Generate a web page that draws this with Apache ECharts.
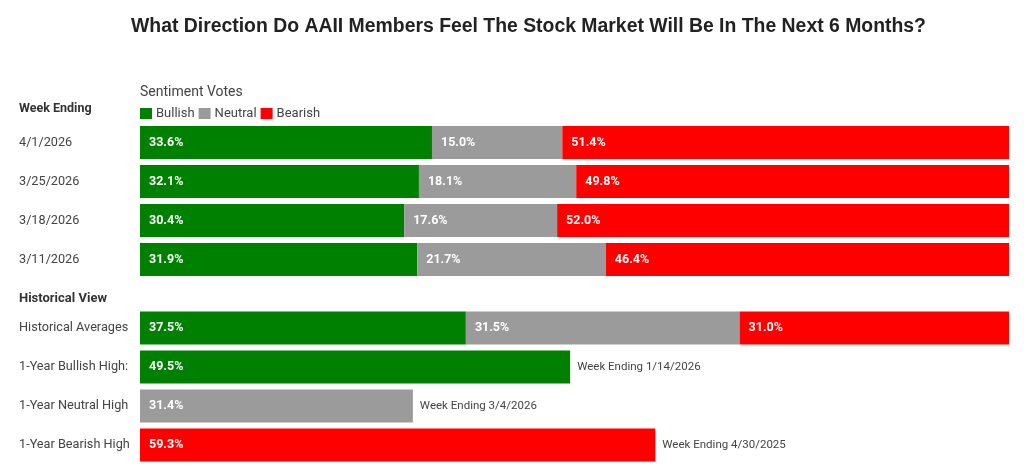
<!DOCTYPE html>
<html><head><meta charset="utf-8">
<script src="https://cdn.jsdelivr.net/npm/echarts@6/dist/echarts.min.js"></script>
<style>html,body{margin:0;padding:0;background:#fff}#c{width:1024px;height:470px}</style>
</head><body><div id="c"></div>
<script>
const weekCategories = ['4/1/2026', '3/25/2026', '3/18/2026', '3/11/2026'];
const weekBullish = [33.6, 32.1, 30.4, 31.9];
const weekNeutral = [15.0, 18.1, 17.6, 21.7];
const weekBearish = [51.4, 49.8, 52.0, 46.4];

const histCategories = ['Historical Averages', '1-Year Bullish High:', '1-Year Neutral High', '1-Year Bearish High'];
const histBullish = [37.5, 49.5, null, null];
const histNeutral = [31.5, null, 31.4, null];
const histBearish = [31.0, null, null, 59.3];
const histNotes = ['', 'Week Ending 1/14/2026', 'Week Ending 3/4/2026', 'Week Ending 4/30/2025'];

const COLORS = { Bullish: '#008000', Neutral: '#9b9b9b', Bearish: '#ff0000' };
const FONT = 'Roboto';

const dash = a => a.map(v => v == null ? '-' : v);
const valLabel = {
  show: true, position: 'insideLeft', distance: 9,
  color: '#fff', fontFamily: FONT, fontWeight: 'bold', fontSize: 12.5,
  formatter: p => p.value.toFixed(1) + '%'
};
function barSeries(name, data, idx, stack) {
  return {
    name, type: 'bar', stack, xAxisIndex: idx, yAxisIndex: idx,
    data: dash(data), barWidth: 33,
    itemStyle: { color: COLORS[name] },
    label: valLabel, emphasis: { disabled: true }
  };
}
const noteValues = histNotes.map((n, i) => n ? [histBullish[i], histNeutral[i], histBearish[i]].find(v => v != null) : '-');

const catAxis = (idx, cats) => ({
  type: 'category', gridIndex: idx, data: cats, inverse: true,
  axisLine: { show: false }, axisTick: { show: false },
  axisLabel: { margin: 121, align: 'left', color: '#444', fontFamily: FONT, fontSize: 12.7 }
});
const valAxis = idx => ({ type: 'value', gridIndex: idx, min: 0, max: 100, show: false });

const chart = echarts.init(document.getElementById('c'), null, { renderer: 'canvas' });
chart.setOption({
  animation: false,
  title: [
    { text: 'What Direction Do AAII Members Feel The Stock Market Will Be In The Next 6 Months?',
      left: 131, top: 17, padding: 0,
      textStyle: { fontFamily: 'Liberation Sans', fontWeight: 'bold', fontSize: 19.4, color: '#222' } },
    { text: 'Sentiment Votes', left: 140, top: 85, padding: 0,
      textStyle: { fontFamily: FONT, fontWeight: 'normal', fontSize: 14, color: '#444' } },
    { text: 'Week Ending', left: 19, top: 102, padding: 0,
      textStyle: { fontFamily: FONT, fontWeight: 'bold', fontSize: 12.5, color: '#333' } },
    { text: 'Historical View', left: 19, top: 292, padding: 0,
      textStyle: { fontFamily: FONT, fontWeight: 'bold', fontSize: 13, color: '#333' } }
  ],
  legend: {
    data: ['Bullish', 'Neutral', 'Bearish'], left: 140, top: 107, padding: 0, icon: 'rect',
    itemWidth: 12, itemHeight: 11, itemGap: 4, selectedMode: false,
    textStyle: { fontFamily: FONT, fontSize: 13, color: '#444', padding: [0, 0, 0, -1] }
  },
  grid: [
    { left: 140, right: 15, top: 123, height: 156 },
    { left: 140, right: 15, top: 308.5, height: 156 }
  ],
  xAxis: [valAxis(0), valAxis(1)],
  yAxis: [catAxis(0, weekCategories), catAxis(1, histCategories)],
  series: [
    barSeries('Bullish', weekBullish, 0, 'w'),
    barSeries('Neutral', weekNeutral, 0, 'w'),
    barSeries('Bearish', weekBearish, 0, 'w'),
    barSeries('Bullish', histBullish, 1, 'h'),
    barSeries('Neutral', histNeutral, 1, 'h'),
    barSeries('Bearish', histBearish, 1, 'h'),
    {
      name: 'notes', type: 'bar', xAxisIndex: 1, yAxisIndex: 1, data: noteValues,
      barWidth: 33, barGap: '-100%', z: 1, silent: true,
      itemStyle: { color: 'rgba(0,0,0,0)' },
      label: { show: true, position: 'right', distance: 7, color: '#444', fontFamily: FONT, fontSize: 11.5,
        formatter: p => histNotes[p.dataIndex] }
    }
  ]
});
</script></body></html>
